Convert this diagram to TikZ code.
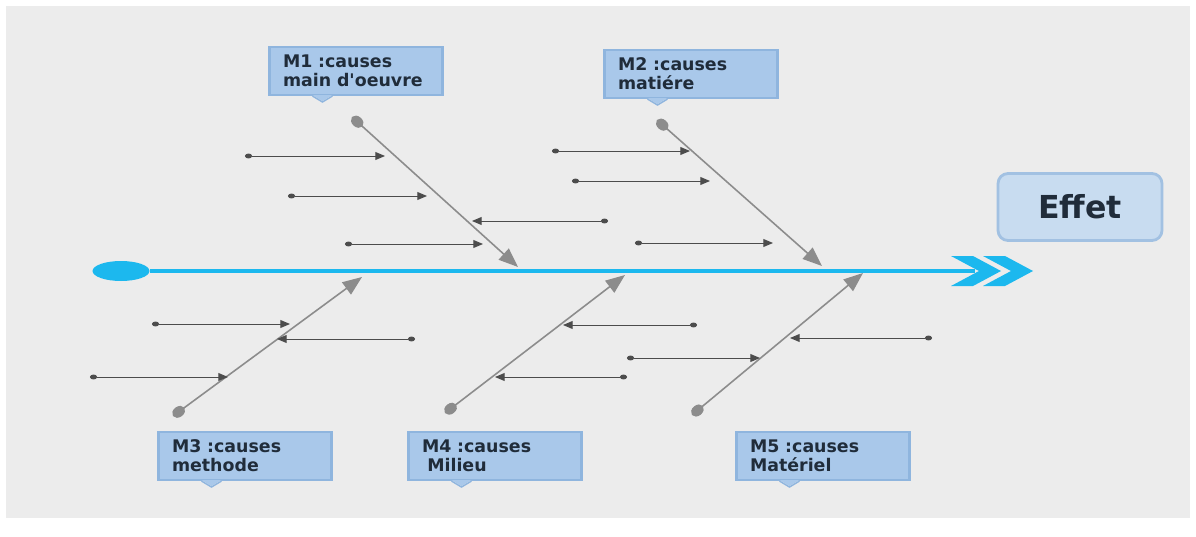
\documentclass[tikz,border=0pt]{standalone}
\usepackage{fontspec}
\setsansfont{DejaVu Sans}
\usetikzlibrary{positioning, calc, arrows.meta, shapes.geometric}
\definecolor{PaperGray}{HTML}{ECECEC}
\definecolor{SpineCyan}{HTML}{1CB8EE}
\definecolor{BoneGray}{HTML}{8C8C8C}
\definecolor{TwigGray}{HTML}{4C4C4C}
\definecolor{TagBlue}{HTML}{A9C8EA}
\definecolor{TagEdge}{HTML}{8FB5DE}
\definecolor{EffetFill}{HTML}{C8DCF0}
\definecolor{EffetEdge}{HTML}{A2C1E2}
\definecolor{InkNavy}{HTML}{202C3A}

\tikzset{
  tagbox/.style={rectangle, fill=TagBlue, draw=TagEdge, line width=1.2pt,
    minimum width=3.46cm, minimum height=0.96cm, text width=2.92cm, inner xsep=0.27cm,
    align=left, font=\sffamily\bfseries\fontsize{9.9}{10.8}\selectfont, text=InkNavy},
  bone/.style={BoneGray, line width=0.9pt, {Ellipse[length=8pt,width=6pt]}-{Triangle[length=11pt,width=8.5pt]}},
  twig/.style={TwigGray, line width=0.55pt, {Ellipse[length=4pt,width=2.8pt]}-{Triangle[length=5.5pt,width=4.5pt]}},
}

\begin{document}
\begin{tikzpicture}[x=0.02cm, y=-0.02cm]
  \useasboundingbox (0,0) rectangle (1196,537);
  \fill[white] (0,0) rectangle (1196,537);
  \fill[PaperGray] (6,6) rectangle (1190,518);

  % spine
  \node[ellipse, fill=SpineCyan, minimum width=1.14cm, minimum height=0.4cm, inner sep=0pt] (spinetail) at (121,271) {};
  \coordinate (spineend) at (975,271);
  \draw[SpineCyan, line width=2.3pt] (spinetail) -- (spineend);
  \foreach \x in {951,983}
    \fill[SpineCyan] (\x,256) -- ++(22,0) -- ++(28,15) -- ++(-28,15) -- ++(-22,0) -- ++(28,-15) -- cycle;

  \node[rectangle, rounded corners=0.2cm, fill=EffetFill, draw=EffetEdge, line width=1.6pt,
    minimum width=3.28cm, minimum height=1.34cm, text=InkNavy,
    font=\sffamily\bfseries\fontsize{18}{20}\selectfont] (effet) at (1080,207) {Effet};

  % category tags
  \foreach \name/\cx/\cy/\txt in {m1/356/71/{M1 :causes\\main d\textquotesingle oeuvre},
      m2/691/74/{M2 :causes\\matiére}, m3/245/456/{M3 :causes\\methode},
      m4/495/456/{M4 :causes\\\hspace{3pt}Milieu}, m5/823/456/{M5 :causes\\Matériel}} {
    \node[tagbox] (\name) at (\cx,\cy) {\txt};
    \fill[TagBlue] ($(\name.south west)+(44,-1)$) -- ++(10,6) -- ++(10,-6) -- cycle;
    \draw[TagEdge, line width=0.8pt] ($(\name.south west)+(44,0)$) -- ++(10,6) -- ++(10,-6);
  }

  % main bones
  \foreach \name/\ax/\ay/\bx/\by in {m1/352/117/518/267, m2/657/120/822/266,
      m3/173/416/362/277, m4/445/413/625/275, m5/692/415/863/273} {
    \coordinate (\name tail) at (\ax,\ay);
    \coordinate (\name head) at (\bx,\by);
    \draw[bone] (\name tail) -- (\name head);
  }

  % sub causes
  \foreach \i/\ax/\ay/\bx in {1/245/156/385, 2/288/196/427, 3/608/221/472, 4/345/244/483,
      5/552/151/690, 6/572/181/710, 7/635/243/773, 8/152/324/290, 9/415/339/277,
      10/90/377/228, 11/697/325/563, 12/627/358/760, 13/627/377/495, 14/932/338/790} {
    \coordinate (t\i) at (\ax,\ay);
    \coordinate (h\i) at (\bx,\ay);
    \draw[twig] (t\i) -- (h\i);
  }
\end{tikzpicture}
\end{document}
